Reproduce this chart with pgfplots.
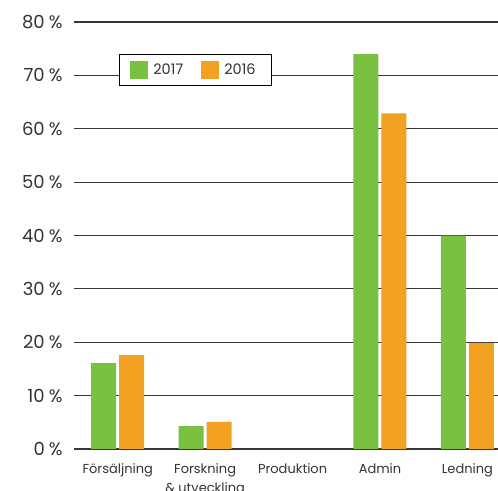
\documentclass[border=0pt]{standalone}
\usepackage{pgfplots}
\pgfplotsset{compat=1.18}
\usepackage{fontspec}
\setmainfont{Poppins}
\definecolor{g17}{RGB}{122,193,66}
\definecolor{o16}{RGB}{243,161,32}
\definecolor{gridc}{RGB}{55,55,55}
\begin{document}
\begin{tikzpicture}
\begin{axis}[
  at={(74pt,41pt)}, anchor=south west,
  width=424pt, height=427pt, scale only axis,
  ymin=0, ymax=80, xmin=-0.5, xmax=4.35,
  axis line style={draw=none}, tick style={draw=none},
  ymajorgrids, grid style={gridc, line width=1.1pt},
  ytick={0,10,...,80},
  yticklabel={\pgfmathprintnumber{\tick}\hspace{4pt}\%},
  /pgf/number format/assume math mode=true,
  yticklabel style={font=\fontsize{18}{20}\selectfont, color=black!80, xshift=-8pt},
  xtick={0,1,2,3,4},
  xticklabels={Försäljning,{Forskning\\\& utveckling},Produktion,Admin,Ledning},
  xticklabel style={font=\fontsize{13}{19}\selectfont, align=center, color=black!80, yshift=-7pt},
  ybar=3pt, bar width=25pt,
  legend columns=2,
  legend image code/.code={\fill[#1] (0pt,-9pt) rectangle (18pt,9pt);},
  legend style={at={(45pt,395pt)}, anchor=north west, draw=black, line width=0.8pt,
    font=\fontsize{14.5}{16}\selectfont, text=black!80, inner xsep=11pt, inner ysep=6.5pt,
    nodes={inner xsep=5pt},
    /tikz/every even column/.append style={column sep=13pt}},
]
\addplot[fill=g17, draw=none] coordinates {(0,16.1) (1,4.3) (3,74) (4,40)};
\addplot[fill=o16, draw=none] coordinates {(0,17.6) (1,5.1) (3,62.9) (4,19.9)};
\legend{2017,2016}
\end{axis}
\pgfresetboundingbox
\path[use as bounding box] (0pt,0pt) rectangle (498pt,490pt);
\end{tikzpicture}
\end{document}
